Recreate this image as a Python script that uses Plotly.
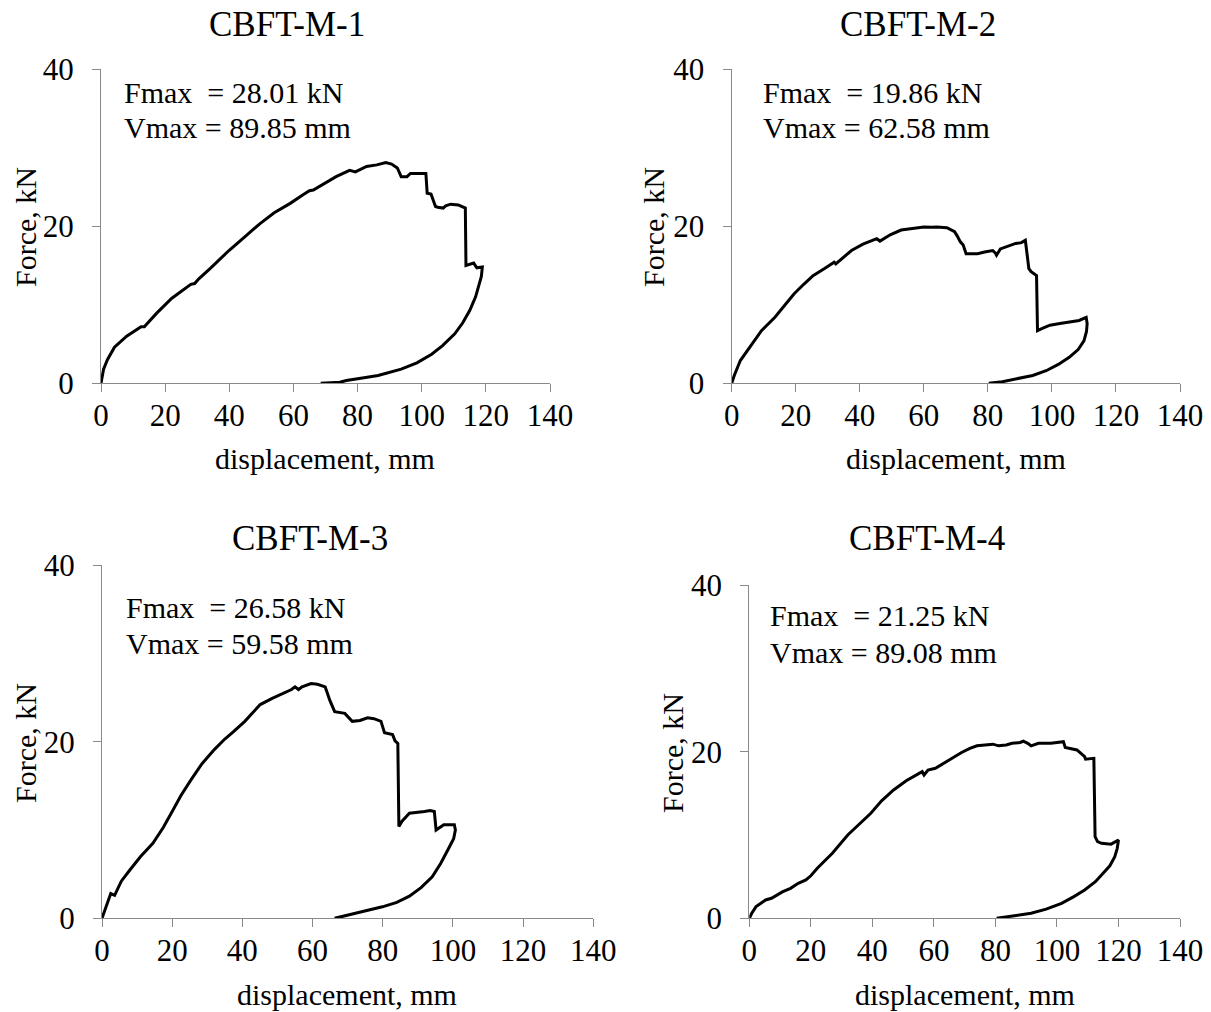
import plotly.graph_objects as go

W, H = 1211, 1012

# ---------------- data (displacement mm, force kN) ----------------
titles = ["CBFT-M-1", "CBFT-M-2", "CBFT-M-3", "CBFT-M-4"]
fmax_text = ["Fmax  = 28.01 kN", "Fmax  = 19.86 kN", "Fmax  = 26.58 kN", "Fmax  = 21.25 kN"]
vmax_text = ["Vmax = 89.85 mm", "Vmax = 62.58 mm", "Vmax = 59.58 mm", "Vmax = 89.08 mm"]
x_ticks = [0, 20, 40, 60, 80, 100, 120, 140]
y_ticks = [0, 20, 40]

disp_1 = [0, 0.8, 2.0, 3.0, 4.2, 8.0, 12.5, 13.5, 17.3, 22.0, 26.8, 28.0, 29.2, 30.5, 34.0,
          39.9, 45.0, 49.5, 54.0, 59.0, 63.0, 65.0, 66.2, 70.0, 73.3, 77.5, 79.3, 82.8, 86.0,
          88.8, 89.85, 90.6, 92.4, 93.6, 95.4, 96.5, 101.3, 101.7, 102.9, 104.3, 105.0, 106.7,
          107.5, 109.0, 111.4, 113.6, 113.8, 116.2, 117.2, 118.9, 118.6, 118.0, 116.8, 115.0,
          112.8, 110.3, 106.5, 103.1, 98.5, 93.6, 89.5, 86.4, 82.5, 79.3, 76.5, 74.5, 71.5, 68.5]
force_1 = [0, 1.8, 3.0, 3.7, 4.6, 6.0, 7.2, 7.2, 8.9, 10.8, 12.3, 12.6, 12.7, 13.3, 14.6,
           16.9, 18.7, 20.3, 21.7, 22.9, 24.0, 24.5, 24.6, 25.5, 26.3, 27.1, 26.9, 27.6, 27.8,
           28.1, 28.01, 27.9, 27.4, 26.3, 26.3, 26.7, 26.7, 24.2, 24.1, 22.5, 22.4, 22.3,
           22.6, 22.8, 22.7, 22.3, 15.0, 15.3, 14.7, 14.8, 13.6, 12.7, 11.0, 9.3,
           7.7, 6.3, 4.8, 3.7, 2.6, 1.8, 1.3, 1.0, 0.75, 0.55, 0.35, 0.13, 0.05, 0]

disp_2 = [0, 0.8, 2.7, 6.3, 9.3, 13.5, 16.5, 19.5, 22.5, 25.4, 29.0, 32.0, 32.5, 37.4, 41.0,
          44.5, 45.3, 46.3, 49.5, 52.9, 56.0, 60.0, 62.58, 64.0, 67.2, 69.6, 70.5, 71.4, 72.3,
          73.2, 74.5, 76.8, 79.0, 81.5, 82.3, 82.7, 83.9, 86.0, 88.7, 90.5, 91.7, 92.8, 93.5,
          95.2, 95.5, 97.0, 99.4, 102.5, 105.4, 108.5, 110.7, 111.0, 110.8, 110.0, 108.2,
          105.4, 102.0, 98.2, 94.0, 88.7, 84.5, 80.3]
force_2 = [0, 1.0, 2.9, 5.0, 6.7, 8.4, 9.9, 11.4, 12.6, 13.7, 14.6, 15.4, 15.2, 16.9, 17.7,
           18.2, 18.4, 18.1, 18.9, 19.5, 19.7, 19.9, 19.86, 19.9, 19.8, 19.3, 18.7, 18.0, 17.6,
           16.5, 16.5, 16.5, 16.7, 16.9, 16.6, 16.3, 17.1, 17.4, 17.8, 17.9, 18.2, 14.6, 14.2,
           13.7, 6.7, 7.0, 7.4, 7.6, 7.8, 8.0, 8.4, 7.6, 6.6, 5.4, 4.3,
           3.3, 2.4, 1.6, 1.0, 0.55, 0.2, 0]

disp_3 = [0, 1.0, 2.5, 3.6, 5.5, 8.0, 11.0, 14.5, 17.5, 20.0, 22.5, 25.4, 28.5, 32.0, 35.0,
          37.4, 40.7, 43.0, 45.1, 48.5, 51.6, 54.0, 55.0, 56.0, 57.0, 59.2, 59.58, 61.4, 63.6,
          64.3, 64.9, 66.3, 69.2, 71.3, 73.5, 75.7, 77.5, 79.5, 80.5, 82.8, 83.5, 84.3, 84.6,
          85.5, 87.6, 91.9, 93.5, 94.7, 95.2, 97.4, 100.4, 100.7, 100.2, 98.5, 96.5, 94.1,
          91.0, 87.6, 84.0, 79.9, 74.5, 71.2, 68.5, 66.3]
force_3 = [0, 1.2, 2.8, 2.6, 4.2, 5.5, 7.0, 8.5, 10.3, 12.1, 13.9, 15.7, 17.5, 19.1, 20.3,
           21.1, 22.3, 23.3, 24.2, 24.9, 25.5, 25.9, 26.2, 25.9, 26.2, 26.6, 26.58, 26.5, 26.2,
           25.4, 24.7, 23.4, 23.2, 22.3, 22.4, 22.7, 22.6, 22.3, 21.0, 20.8, 20.1, 19.8, 10.4,
           11.0, 11.9, 12.1, 12.2, 12.1, 10.0, 10.6, 10.6, 10.0, 9.0, 7.7, 6.2, 4.7,
           3.5, 2.5, 1.8, 1.3, 0.75, 0.5, 0.2, 0]

disp_4 = [0, 0.8, 2.2, 5.3, 7.2, 10.9, 13.4, 15.9, 18.4, 20.0, 22.1, 27.0, 32.0, 35.5, 39.5,
          43.0, 46.9, 51.0, 54.3, 56.2, 56.8, 58.1, 60.5, 63.5, 66.7, 69.0, 71.7, 74.0, 76.6,
          79.2, 81.0, 83.5, 85.4, 88.0, 89.08, 90.5, 91.6, 94.0, 98.0, 102.1, 102.7, 106.5,
          109.0, 109.3, 112.0, 112.4, 113.2, 114.5, 117.6, 120.0, 119.6, 118.8, 117.2, 115.1,
          112.5, 109.0, 105.5, 101.5, 96.5, 91.6, 86.6, 80.4]
force_4 = [0, 0.6, 1.4, 2.2, 2.4, 3.2, 3.6, 4.2, 4.6, 5.1, 6.0, 7.8, 10.0, 11.2, 12.6,
           14.1, 15.4, 16.5, 17.2, 17.6, 17.2, 17.8, 18.0, 18.7, 19.4, 19.9, 20.4, 20.7, 20.8,
           20.9, 20.7, 20.8, 21.0, 21.1, 21.25, 21.0, 20.7, 21.0, 21.0, 21.2, 20.5, 20.2,
           19.4, 19.1, 19.2, 9.8, 9.2, 9.0, 8.9, 9.4, 8.4, 7.4, 6.3, 5.4,
           4.4, 3.4, 2.6, 1.8, 1.1, 0.6, 0.3, 0]

curves = [(disp_1, force_1), (disp_2, force_2), (disp_3, force_3), (disp_4, force_4)]

# ---------------- layout geometry (pixels) ----------------
# (left, right, top, bottom) of each plot area
boxes = [(101, 550, 69, 383.3), (731.7, 1180, 69, 383.3),
         (102, 593.3, 565, 918.3), (749.3, 1180, 585, 918.3)]
title_pos = [(287, 25), (918, 25), (310, 538), (927, 538)]
ytitle_pos = [(25, 227), (653, 227), (25, 743), (672, 753)]
xtitle_pos = [(325, 458), (956, 458), (347, 994), (965, 994)]
fmax_pos = [(122, 92), (761, 92), (124, 607), (768, 615)]
vmax_pos = [(122, 128), (761, 128), (124, 643), (768, 652)]


def px(x):
    return x / W


def py(y):
    return 1 - y / H


FONT = "Liberation Serif, Times New Roman, serif"
AXC = "#8a8a8a"

fig = go.Figure()
annotations = []
layout_axes = {}
for i, (xs, ys) in enumerate(curves):
    n = "" if i == 0 else str(i + 1)
    fig.add_trace(go.Scatter(x=xs, y=ys, mode="lines",
                             line=dict(color="black", width=3),
                             xaxis="x" + n, yaxis="y" + n, showlegend=False,
                             hoverinfo="skip"))
    l, r, t, b = boxes[i]
    layout_axes["xaxis" + n] = dict(
        domain=[px(l), px(r)], range=[0, 140], tickvals=x_ticks,
        anchor="y" + n, showline=True, linecolor=AXC, linewidth=1.3,
        ticks="outside", ticklen=8, tickcolor=AXC, tickwidth=1.3,
        showgrid=False, zeroline=False, fixedrange=True, automargin=False,
        ticklabelstandoff=-4,
        tickfont=dict(family=FONT, size=31, color="black"))
    layout_axes["yaxis" + n] = dict(
        domain=[py(b), py(t)], range=[0, 40], tickvals=y_ticks,
        anchor="x" + n, showline=True, linecolor=AXC, linewidth=1.3,
        ticks="outside", ticklen=8, tickcolor=AXC, tickwidth=1.3,
        showgrid=False, zeroline=False, fixedrange=True, automargin=False,
        ticklabelstandoff=12,
        tickfont=dict(family=FONT, size=31, color="black"))
    common = dict(xref="paper", yref="paper", showarrow=False)
    annotations.append(dict(text=titles[i], x=px(title_pos[i][0]), y=py(title_pos[i][1]),
                            xanchor="center", yanchor="middle",
                            font=dict(family=FONT, size=35, color="black"), **common))
    annotations.append(dict(text="Force, kN", x=px(ytitle_pos[i][0]), y=py(ytitle_pos[i][1]),
                            xanchor="center", yanchor="middle", textangle=-90,
                            font=dict(family=FONT, size=30, color="black"), **common))
    annotations.append(dict(text="displacement, mm", x=px(xtitle_pos[i][0]), y=py(xtitle_pos[i][1]),
                            xanchor="center", yanchor="middle",
                            font=dict(family=FONT, size=30, color="black"), **common))
    annotations.append(dict(text=fmax_text[i], x=px(fmax_pos[i][0]), y=py(fmax_pos[i][1]),
                            xanchor="left", yanchor="middle",
                            font=dict(family=FONT, size=30, color="black"), **common))
    annotations.append(dict(text=vmax_text[i], x=px(vmax_pos[i][0]), y=py(vmax_pos[i][1]),
                            xanchor="left", yanchor="middle",
                            font=dict(family=FONT, size=30, color="black"), **common))

fig.update_layout(width=W, height=H, autosize=False,
                  margin=dict(l=0, r=0, t=0, b=0, pad=0, autoexpand=False),
                  showlegend=False,
                  paper_bgcolor="white", plot_bgcolor="white",
                  annotations=annotations, **layout_axes)

fig.write_html("out.html", config={"displayModeBar": False},
               post_script="document.body.style.margin='0';document.body.style.overflow='hidden';")
